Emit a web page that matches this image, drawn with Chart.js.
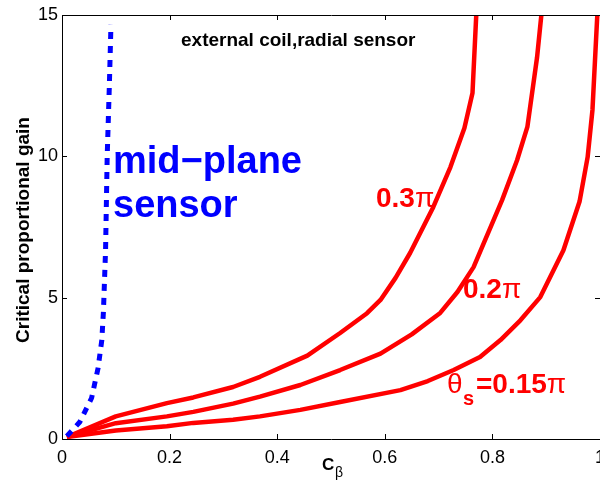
<!DOCTYPE html>
<html>
<head>
<meta charset="utf-8">
<script src="https://cdn.jsdelivr.net/npm/chart.js@4"></script>
<style>
  html, body { margin: 0; padding: 0; background: #fff; }
  #wrap { width: 600px; height: 486px; }
</style>
</head>
<body>
<div id="wrap"><canvas id="gainChart" width="600" height="486"></canvas></div>
<script>
// values (C_beta, critical proportional gain)
const midX = [0.009, 0.033, 0.055, 0.067, 0.074, 0.077, 0.081, 0.084, 0.088, 0.091];
const midY = [0.1, 0.6, 1.45, 2.5, 3.5, 4.5, 6.7, 10, 12.5, 14.65];

const th30X = [0.009, 0.1, 0.195, 0.244, 0.318, 0.368, 0.456, 0.517, 0.567, 0.592, 0.62, 0.647, 0.69, 0.722, 0.748, 0.763, 0.77];
const th30Y = [0.07, 0.8, 1.27, 1.47, 1.84, 2.2, 2.95, 3.75, 4.45, 4.92, 5.7, 6.58, 8.2, 9.62, 11.0, 12.24, 15];

const th20X = [0.009, 0.1, 0.195, 0.244, 0.318, 0.368, 0.443, 0.517, 0.592, 0.65, 0.703, 0.735, 0.765, 0.818, 0.846, 0.865, 0.883, 0.891];
const th20Y = [0.07, 0.56, 0.8, 0.96, 1.25, 1.5, 1.91, 2.44, 3.02, 3.7, 4.46, 5.2, 6.08, 8.45, 9.87, 11.04, 13.5, 15];

const th15X = [0.009, 0.1, 0.195, 0.244, 0.318, 0.368, 0.443, 0.517, 0.629, 0.68, 0.728, 0.777, 0.815, 0.852, 0.889, 0.932, 0.962, 0.977, 0.986, 0.995];
const th15Y = [0.07, 0.3, 0.45, 0.57, 0.68, 0.8, 1.03, 1.31, 1.73, 2.05, 2.44, 2.9, 3.5, 4.2, 5.02, 6.68, 8.4, 9.97, 11.64, 15];

const xTicks = [0, 0.2, 0.4, 0.6, 0.8, 1];
const yTicks = [0, 5, 10, 15];

const FONT = '"Liberation Sans", Arial, Helvetica, sans-serif';

function pts(xs, ys) {
  return xs.map((x, i) => ({ x: x, y: ys[i] }));
}

// frame with inward ticks, like the original figure
const framePlugin = {
  id: 'frame',
  afterDatasetsDraw(chart) {
    const ctx = chart.ctx;
    const a = chart.chartArea;
    const sx = chart.scales.x, sy = chart.scales.y;
    ctx.save();
    ctx.strokeStyle = '#000';
    ctx.lineWidth = 1;
    ctx.beginPath();
    ctx.rect(a.left + 0.5, a.top + 0.5, a.right - a.left, a.bottom - a.top);
    xTicks.forEach(v => {
      const px = Math.round(sx.getPixelForValue(v)) + 0.5;
      ctx.moveTo(px, a.bottom); ctx.lineTo(px, a.bottom - 5);
      ctx.moveTo(px, a.top); ctx.lineTo(px, a.top + 5);
    });
    yTicks.forEach(v => {
      const py = Math.round(sy.getPixelForValue(v)) + 0.5;
      ctx.moveTo(a.left, py); ctx.lineTo(a.left + 5, py);
      ctx.moveTo(a.right, py); ctx.lineTo(a.right - 5, py);
    });
    ctx.stroke();
    ctx.restore();
  }
};

// titles and in-plot labels
const textPlugin = {
  id: 'texts',
  afterDraw(chart) {
    const ctx = chart.ctx;
    ctx.save();
    ctx.textBaseline = 'alphabetic';
    ctx.textAlign = 'left';

    ctx.fillStyle = '#000';
    ctx.font = 'bold 19px ' + FONT;
    ctx.fillText('external coil,radial sensor', 181, 46);

    ctx.fillStyle = '#0000ff';
    ctx.font = 'bold 38px ' + FONT;
    ctx.fillText('mid\u2212plane', 113, 173);
    ctx.fillText('sensor', 113, 217);

    ctx.fillStyle = '#ff0000';
    function piLabel(num, x, y) {
      ctx.font = 'bold 28px ' + FONT;
      ctx.fillText(num, x, y);
      const w = ctx.measureText(num).width;
      ctx.font = '28px ' + FONT;
      ctx.fillText('\u03c0', x + w, y);
    }
    piLabel('0.3', 376, 207);
    piLabel('0.2', 463, 298);

    ctx.font = '28px ' + FONT;
    ctx.fillText('\u03b8', 447, 393);
    ctx.font = 'bold 20px ' + FONT;
    ctx.fillText('s', 463, 405);
    piLabel('=0.15', 476, 393);

    // axis titles
    ctx.fillStyle = '#000';
    ctx.font = 'bold 17px ' + FONT;
    ctx.fillText('C', 322, 470);
    ctx.font = '14px ' + FONT;
    ctx.fillText('\u03b2', 335, 477);

    ctx.translate(29, 230);
    ctx.rotate(-Math.PI / 2);
    ctx.textAlign = 'center';
    ctx.font = 'bold 19px ' + FONT;
    ctx.fillText('Critical proportional gain', 0, 0);
    ctx.restore();
  }
};

const chartArea = document.getElementById('gainChart').getContext('2d');
const gainChart = new Chart(chartArea, {
  type: 'line',
  data: {
    datasets: [
      {
        label: 'mid-plane sensor',
        data: pts(midX, midY),
        borderColor: '#0000ff',
        borderWidth: 5,
        borderDash: [7, 7],
        borderCapStyle: 'butt'
      },
      { label: '0.3pi', data: pts(th30X, th30Y), borderColor: '#ff0000', borderWidth: 4.5 },
      { label: '0.2pi', data: pts(th20X, th20Y), borderColor: '#ff0000', borderWidth: 4.5 },
      { label: '0.15pi', data: pts(th15X, th15Y), borderColor: '#ff0000', borderWidth: 4.5 }
    ]
  },
  options: {
    responsive: false,
    animation: false,
    devicePixelRatio: 1,
    layout: { padding: { top: 15, left: 0, right: 0, bottom: 0 } },
    elements: {
      point: { radius: 0, hoverRadius: 0 },
      line: { tension: 0, fill: false, borderJoinStyle: 'round' }
    },
    plugins: {
      legend: { display: false },
      tooltip: { enabled: false }
    },
    scales: {
      x: {
        type: 'linear',
        min: 0,
        max: 1,
        afterBuildTicks(scale) { scale.ticks = xTicks.map(v => ({ value: v })); },
        afterFit(scale) {
          scale.height = 47;
          scale.paddingLeft = 0;
          scale.paddingRight = 0;
        },
        grid: { display: false, drawTicks: false },
        border: { display: false },
        ticks: {
          autoSkip: false,
          maxRotation: 0,
          padding: 8,
          color: '#000',
          font: { family: FONT, size: 18 },
          callback: v => String(+v.toFixed(1))
        }
      },
      y: {
        type: 'linear',
        min: 0,
        max: 15,
        afterBuildTicks(scale) { scale.ticks = yTicks.map(v => ({ value: v })); },
        afterFit(scale) { scale.width = 62; },
        grid: { display: false, drawTicks: false },
        border: { display: false },
        ticks: {
          padding: 4,
          color: '#000',
          font: { family: FONT, size: 18 },
          callback: v => String(v)
        }
      }
    }
  },
  plugins: [framePlugin, textPlugin]
});
</script>
</body>
</html>
